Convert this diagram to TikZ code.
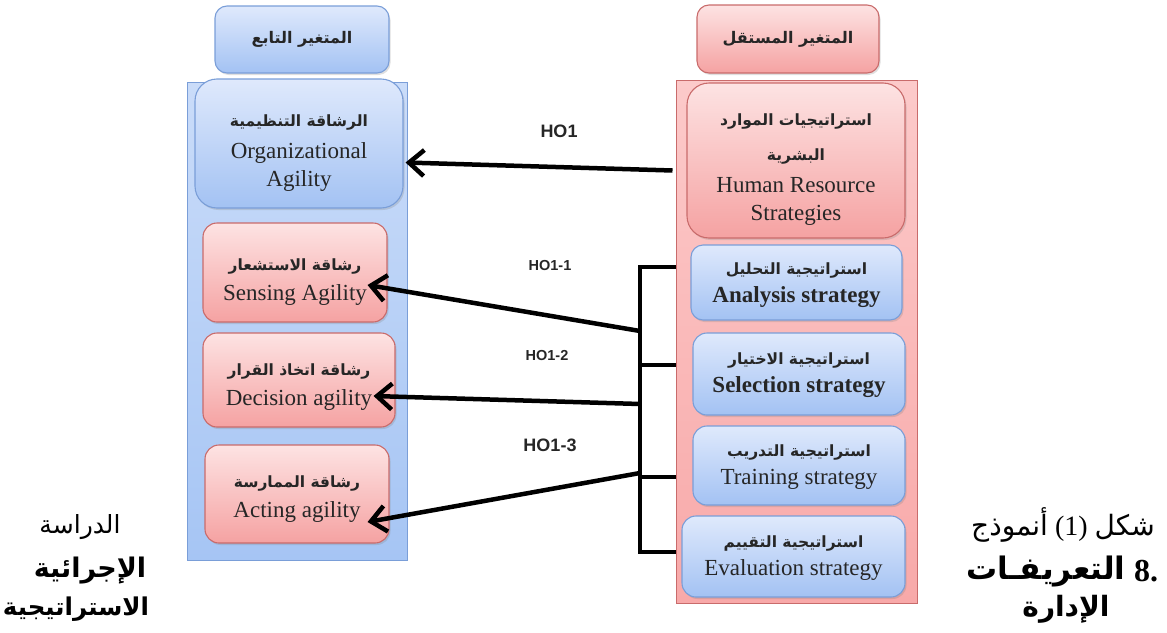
\documentclass[tikz,border=0pt]{standalone}
\usepackage{fontspec}
\usepackage{xcolor}
\setmainfont{Liberation Serif}
\newfontfamily\arabicfont[Script=Arabic]{DejaVu Sans}
\newfontfamily\labelfont{Liberation Sans}
\TeXXeTstate=1
\usetikzlibrary{positioning,calc,arrows.meta,shadows}

\definecolor{blueTop}{HTML}{DFE9FC}
\definecolor{blueBot}{HTML}{A3C2F3}
\definecolor{blueLine}{HTML}{7A9ED8}
\definecolor{redTop}{HTML}{FDE3E3}
\definecolor{redBot}{HTML}{F5A2A2}
\definecolor{redLine}{HTML}{C96B6B}
\definecolor{panelBlueTop}{HTML}{CADCF9}
\definecolor{panelBlueBot}{HTML}{A6C5F4}
\definecolor{panelRedTop}{HTML}{FCCACA}
\definecolor{panelRedBot}{HTML}{F8A9A9}

\newcommand{\artxt}[2][15.5]{{\arabicfont\bfseries\fontsize{#1}{20}\selectfont\beginR #2\endR}}
\newcommand{\arplain}[2][15]{{\arabicfont\fontsize{#1}{20}\selectfont\beginR #2\endR}}
% pushes the text block of a box a little down
\newcommand{\topgap}[1][30pt]{\rule{0pt}{#1}}

\tikzset{
  varbox/.style={line width=1.1pt, align=center, text=black!85,
    font=\fontsize{23}{28}\selectfont, inner sep=2pt,
    drop shadow={opacity=0.25, shadow xshift=1.5pt, shadow yshift=-2pt}},
  bluebox/.style={varbox, draw=blueLine, top color=blueTop, bottom color=blueBot},
  redbox/.style={varbox, draw=redLine, top color=redTop, bottom color=redBot},
  bluepanel/.style={draw=blueLine, line width=1pt, top color=panelBlueTop, bottom color=panelBlueBot},
  redpanel/.style={draw=redLine, line width=1pt, top color=panelRedTop, bottom color=panelRedBot},
  hyp/.style={line width=4.5pt, -{Straight Barb[length=15pt,width=26pt]}},
  bracket/.style={line width=4.5pt, line join=miter},
  hlab/.style={font=\labelfont\bfseries\fontsize{#1}{20}\selectfont, text=black!85},
}

\begin{document}
\begin{tikzpicture}[x=1pt,y=-1pt]
  \useasboundingbox (0,0) rectangle (1167,632);

  % panels
  \node[bluepanel, minimum width=220, minimum height=478] (depP) at (297,321) {};
  \node[redpanel, minimum width=241, minimum height=523] (indP) at (796.5,341.5) {};

  % headers
  \node[bluebox, rounded corners=12pt, minimum width=174, minimum height=67] (hdrL) at (302,39.5) {\artxt[16]{المتغير التابع}};
  \node[redbox, rounded corners=12pt, minimum width=182, minimum height=68] (hdrR) at (788,39) {\artxt[16]{المتغير المستقل}};

  % dependent variable
  \node[bluebox, rounded corners=22pt, minimum width=208, minimum height=129] (org) at (299,143.5)
    {\topgap\artxt{الرشاقة التنظيمية}\\[4pt] Organizational\\ Agility};
  \node[redbox, rounded corners=14pt, minimum width=184, minimum height=99] (sens) at (295,272.5)
    {\topgap\artxt{رشاقة الاستشعار}\\[2pt] Sensing Agility};
  \node[redbox, rounded corners=14pt, minimum width=192, minimum height=94] (dec) at (299,380)
    {\topgap[26pt]\artxt{رشاقة اتخاذ القرار}\\[2pt] Decision agility};
  \node[redbox, rounded corners=14pt, minimum width=184, minimum height=98] (act) at (297,494)
    {\topgap[22pt]\artxt{رشاقة الممارسة}\\[2pt] Acting agility};

  % independent variable
  \node[redbox, rounded corners=22pt, minimum width=218, minimum height=155] (hr) at (796,160.5)
    {\topgap\artxt{استراتيجيات الموارد}\\[7pt] \artxt{البشرية}\\[4pt] Human Resource\\ Strategies};
  \node[bluebox, rounded corners=12pt, minimum width=211, minimum height=75] (an) at (796.5,282.5)
    {\topgap[18pt]\artxt{استراتيجية التحليل}\\ \textbf{Analysis strategy}};
  \node[bluebox, rounded corners=14pt, minimum width=212, minimum height=82] (sel) at (799,374)
    {\topgap[14pt]\artxt{استراتيجية الاختيار}\\ \textbf{Selection strategy}};
  \node[bluebox, rounded corners=14pt, minimum width=212, minimum height=79] (tr) at (799,465.5)
    {\topgap[14pt]\artxt{استراتيجية التدريب}\\ Training strategy};
  \node[bluebox, rounded corners=14pt, minimum width=223, minimum height=81] (ev) at (793.5,556.5)
    {\topgap[14pt]\artxt{استراتيجية التقييم}\\ Evaluation strategy};

  % bracket joining the four strategies
  \coordinate (ja) at (640,267);
  \coordinate (js) at (640,365);
  \coordinate (jt) at (640,477);
  \coordinate (je) at (640,552);
  \draw[bracket] (ja -| indP.west) -- (ja) -- (je) -- (je -| indP.west);
  \draw[bracket] (js) -- (js -| indP.west);
  \draw[bracket] (jt) -- (jt -| indP.west);

  % hypotheses
  \coordinate (b1) at (640,331);
  \coordinate (b2) at (640,404);
  \coordinate (b3) at (640,473);
  \draw[hyp] ($(hr.west -| indP.west)+(-3,10)$) -- ($(org.east)+(2,19)$);
  \draw[hyp] (b1) -- ($(sens.east)+(-20,12.5)$);
  \draw[hyp] (b2) -- ($(dec.east)+(-22,16)$);
  \draw[hyp] (b3) -- ($(act.east)+(-22,28)$);

  \node[hlab=18] (h0) at (559,131) {HO1};
  \node[hlab=14.5] (h1) at (550,266) {HO1-1};
  \node[hlab=14.5] (h2) at (547,356) {HO1-2};
  \node[hlab=18] (h3) at (550,445) {HO1-3};

  % stray page text
  \node (tl1) at (80,527) {\arplain[25]{الدراسة}};
  \node (tl2) at (90,571) {\artxt[27]{الإجرائية}};
  \node (tl3) at (76,609) {\artxt[24.5]{الاستراتيجية}};
  \node (tr1) at (1063,525) {\arplain[28]{أنموذج}\hspace{7pt}{\fontsize{28}{30}\selectfont(1)}\hspace{7pt}\arplain[28]{شكل}};
  \node (tr2) at (1046,571) {\artxt[31]{التعريفـات}};
  \node (tr2n) at (1146,571) {\bfseries\fontsize{32}{34}\selectfont 8.};
  \node (tr3) at (1066,609) {\artxt[28]{الإدارة}};
\end{tikzpicture}
\end{document}
